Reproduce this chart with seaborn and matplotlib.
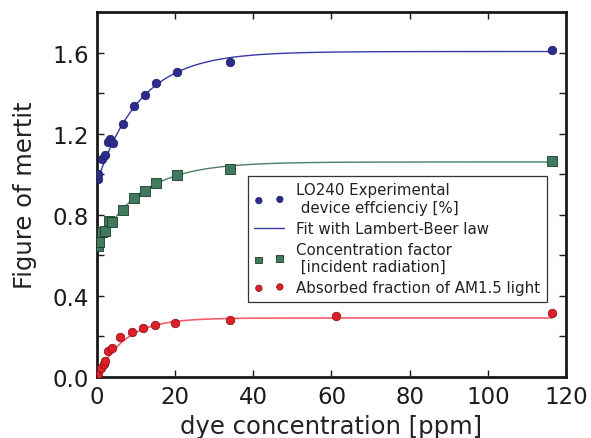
import numpy as np
import pandas as pd
import seaborn as sns
import matplotlib
matplotlib.use("Agg")
import matplotlib.pyplot as plt

# Measured data (dye concentration in ppm)
eff_x = [0.3, 0.3, 1.4, 2.0, 2.7, 3.3, 4.0, 6.7, 9.5, 12.3, 15.0, 20.4, 34.1, 116.4]
eff_y = [0.978, 1.002, 1.076, 1.093, 1.160, 1.175, 1.153, 1.245, 1.337, 1.388,
         1.452, 1.503, 1.552, 1.612]

conc_x = [0.3, 0.6, 1.4, 2.0, 3.0, 3.9, 6.7, 9.5, 12.3, 15.0, 20.4, 34.1, 116.4]
conc_y = [0.645, 0.665, 0.712, 0.721, 0.769, 0.764, 0.825, 0.884, 0.918, 0.958,
          0.994, 1.025, 1.065]

abs_x = [0.35, 0.95, 1.9, 2.05, 2.9, 3.9, 6.0, 8.9, 11.9, 14.95, 20.0, 34.1, 61.1, 116.3]
abs_y = [0.013, 0.041, 0.063, 0.079, 0.125, 0.140, 0.194, 0.222, 0.240, 0.255,
         0.263, 0.279, 0.298, 0.314]

# Lambert-Beer fit parameters: y = plateau - drop * exp(-rate * c)
eff_fit = dict(plateau=1.605, drop=0.645, rate=0.090)
conc_fit = dict(plateau=1.060, drop=0.420, rate=0.090)
abs_fit = dict(plateau=0.290, drop=0.290, rate=0.140)

x_ticks = [0, 20, 40, 60, 80, 100, 120]
y_ticks = [0.0, 0.2, 0.4, 0.6, 0.8, 1.0, 1.2, 1.4, 1.6]
y_labels = ["0.0", "", "0.4", "", "0.8", "", "1.2", "", "1.6"]

sns.set_style("ticks")
plt.rcParams.update({
    "font.family": ["DejaVu Sans"],
    "xtick.direction": "in", "ytick.direction": "in",
    "xtick.top": True, "ytick.right": True,
    "xtick.major.size": 5, "ytick.major.size": 5,
    "xtick.major.width": 1.0, "ytick.major.width": 1.0,
    "axes.linewidth": 2.0, "axes.edgecolor": "#1a1a1a",
    "xtick.color": "#1a1a1a", "ytick.color": "#1a1a1a",
    "text.color": "#222222", "axes.labelcolor": "#222222",
})

fig = plt.figure(figsize=(5.91, 4.39), dpi=100)
ax = fig.add_axes([0.1641, 0.1396, 0.7936, 0.8308])

c_grid = np.linspace(0, 116.4, 400)


def lambert_beer(c, plateau, drop, rate):
    return plateau - drop * np.exp(-rate * c)


blue_pt, blue_ln = "#2b2d8e", "#3838a8"
green_pt, green_ln = "#3f7a5c", "#4a8064"
red_pt, red_ln = "#e11d27", "#f0606a"

sns.lineplot(x=c_grid, y=lambert_beer(c_grid, **eff_fit), ax=ax, color=blue_ln,
             lw=1.0, label="Fit with Lambert-Beer law", zorder=2)
sns.lineplot(x=c_grid, y=lambert_beer(c_grid, **conc_fit), ax=ax, color=green_ln,
             lw=1.0, zorder=2)
sns.lineplot(x=c_grid, y=lambert_beer(c_grid, **abs_fit), ax=ax, color=red_ln,
             lw=1.2, zorder=2)

sns.scatterplot(x=eff_x, y=eff_y, ax=ax, color=blue_pt, marker="o", s=38,
                edgecolor="#1c1c5a", linewidth=0.5,
                label="LO240 Experimental\n device effcienciy [%]", zorder=3)
sns.scatterplot(x=conc_x, y=conc_y, ax=ax, color=green_pt, marker="s", s=42,
                edgecolor="#1f3a2b", linewidth=0.6,
                label="Concentration factor\n [incident radiation]", zorder=3)
sns.scatterplot(x=abs_x, y=abs_y, ax=ax, color=red_pt, marker="o", s=38,
                edgecolor="#7a1015", linewidth=0.5,
                label="Absorbed fraction of AM1.5 light", zorder=3)

ax.set_xlim(0, 120)
ax.set_ylim(0, 1.8)
ax.set_xticks(x_ticks)
ax.set_xticklabels([str(t) for t in x_ticks])
ax.set_yticks(y_ticks)
ax.set_yticklabels(y_labels)
ax.tick_params(labelsize=16.5, pad=6)
ax.set_xlabel("dye concentration [ppm]", fontsize=17.5, labelpad=4)
ax.set_ylabel("Figure of mertit", fontsize=17.5, labelpad=11)

handles, labels = ax.get_legend_handles_labels()
order = ["LO240 Experimental\n device effcienciy [%]", "Fit with Lambert-Beer law",
         "Concentration factor\n [incident radiation]", "Absorbed fraction of AM1.5 light"]
hmap = dict(zip(labels, handles))
leg = ax.legend([hmap[k] for k in order], order, loc="lower right",
                bbox_to_anchor=(0.96, 0.205), borderaxespad=0.0,
                fontsize=10.8, scatterpoints=2,
                markerscale=0.75, labelcolor="#222222",
                frameon=True, fancybox=False, framealpha=1, edgecolor="#333333",
                handlelength=2.0, handletextpad=0.8, borderpad=0.45,
                labelspacing=0.4)
leg.get_frame().set_linewidth(0.9)

fig.savefig("out.png", dpi=100)
